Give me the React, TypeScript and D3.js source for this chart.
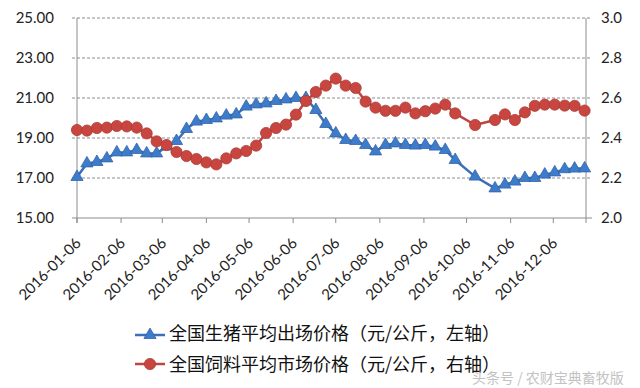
import * as d3 from 'd3';

// weekly observation dates (no data for 10-05 and 10-19)
const dates = [
  '2016-01-06', '2016-01-13', '2016-01-20', '2016-01-27', '2016-02-03', '2016-02-10', '2016-02-17', '2016-02-24',
  '2016-03-02', '2016-03-09', '2016-03-16', '2016-03-23', '2016-03-30', '2016-04-06', '2016-04-13', '2016-04-20',
  '2016-04-27', '2016-05-04', '2016-05-11', '2016-05-18', '2016-05-25', '2016-06-01', '2016-06-08', '2016-06-15',
  '2016-06-22', '2016-06-29', '2016-07-06', '2016-07-13', '2016-07-20', '2016-07-27', '2016-08-03', '2016-08-10',
  '2016-08-17', '2016-08-24', '2016-08-31', '2016-09-07', '2016-09-14', '2016-09-21', '2016-09-28', '2016-10-12',
  '2016-10-26', '2016-11-02', '2016-11-09', '2016-11-16', '2016-11-23', '2016-11-30', '2016-12-07', '2016-12-14',
  '2016-12-21', '2016-12-28',
];

// 全国生猪平均出场价格 (left axis)
const hogPrice = [
  17.05, 17.73, 17.8, 17.98, 18.28, 18.28, 18.4, 18.23,
  18.23, 18.57, 18.85, 19.45, 19.82, 19.9, 19.98, 20.12,
  20.18, 20.57, 20.68, 20.73, 20.85, 20.93, 21.0, 21.0,
  20.4, 19.7, 19.23, 18.9, 18.85, 18.65, 18.33, 18.65,
  18.73, 18.65, 18.62, 18.65, 18.57, 18.4, 17.9, 17.07,
  16.48, 16.67, 16.82, 17.0, 17.0, 17.17, 17.28, 17.44,
  17.47, 17.48,
];

// 全国饲料平均市场价格 (right axis)
const feedPrice = [
  2.44, 2.437, 2.45, 2.452, 2.46, 2.458, 2.452, 2.423,
  2.383, 2.365, 2.33, 2.31, 2.295, 2.278, 2.268, 2.298,
  2.323, 2.335, 2.362, 2.425, 2.45, 2.467, 2.517, 2.585,
  2.63, 2.662, 2.697, 2.662, 2.65, 2.582, 2.552, 2.536,
  2.536, 2.552, 2.523, 2.534, 2.547, 2.567, 2.523, 2.465,
  2.49, 2.518, 2.49, 2.528, 2.561, 2.567, 2.567, 2.562,
  2.561, 2.537,
];

const monthTicks = [
  '2016-01-06', '2016-02-06', '2016-03-06', '2016-04-06', '2016-05-06', '2016-06-06',
  '2016-07-06', '2016-08-06', '2016-09-06', '2016-10-06', '2016-11-06', '2016-12-06',
];
const leftTicks = [15, 17, 19, 21, 23, 25];
const rightTicks = [2.0, 2.2, 2.4, 2.6, 2.8, 3.0];

const hogLabel = '全国生猪平均出场价格（元/公斤，左轴）';
const feedLabel = '全国饲料平均市场价格（元/公斤，右轴）';

const W = 640;
const H = 388;
const left = 77;
const right = 586;
const top = 18;
const bottom = 218;

const BLUE_LINE = '#3b6fb6';
const BLUE_FILL = '#3d7bcb';
const RED_LINE = '#bf4540';
const RED_FILL = '#c8463f';

const parse = d3.timeParse('%Y-%m-%d');

export default function App() {
  const x = d3.scaleTime()
    .domain([parse('2016-01-06')!, parse('2016-12-29')!])
    .range([left, right]);
  const yL = d3.scaleLinear().domain([15, 25]).range([bottom, top]);
  const yR = d3.scaleLinear().domain([2.0, 3.0]).range([bottom, top]);

  const hog = dates.map((d, i) => ({ date: parse(d)!, v: hogPrice[i] }));
  const feed = dates.map((d, i) => ({ date: parse(d)!, v: feedPrice[i] }));

  const hogLine = d3.line<{ date: Date; v: number }>().x(d => x(d.date)).y(d => yL(d.v));
  const feedLine = d3.line<{ date: Date; v: number }>().x(d => x(d.date)).y(d => yR(d.v));
  const tri = d3.symbol().type(d3.symbolTriangle).size(64)()!;

  const tickFont = 'Lato, "Open Sans", sans-serif';
  const cjkFont = '"Noto Sans CJK SC", sans-serif';

  return (
    <svg width={W} height={H} style={{ position: 'absolute', left: 0, top: 0, background: '#fff' }}>
      {/* gridlines */}
      {leftTicks.slice(1).map(t => (
        <line key={t} x1={left - 5} x2={right + 6} y1={yL(t)} y2={yL(t)}
          stroke="#8c8c8c" strokeWidth={1} strokeDasharray="3,2" />
      ))}
      {/* axes */}
      <line x1={left} x2={left} y1={top} y2={bottom + 5} stroke="#8c8c8c" />
      <line x1={right} x2={right} y1={top} y2={bottom + 5} stroke="#8c8c8c" />
      <line x1={left - 5} x2={right + 6} y1={bottom} y2={bottom} stroke="#8c8c8c" />
      {monthTicks.map(t => (
        <line key={t} x1={x(parse(t)!)} x2={x(parse(t)!)} y1={bottom} y2={bottom + 5} stroke="#8c8c8c" />
      ))}
      {leftTicks.map(t => (
        <text key={t} x={54} y={yL(t)} dy="0.36em" textAnchor="end" fontFamily={tickFont} fontSize={15} fill="#222">
          {t.toFixed(2)}
        </text>
      ))}
      {rightTicks.map(t => (
        <text key={t} x={601} y={yR(t)} dy="0.36em" textAnchor="start" fontFamily={tickFont} fontSize={15} fill="#222">
          {t.toFixed(1)}
        </text>
      ))}
      {monthTicks.map(t => (
        <text key={t} transform={`translate(${x(parse(t)!) + 5},244) rotate(-45)`} textAnchor="end"
          fontFamily={tickFont} fontSize={15} fill="#222">
          {t}
        </text>
      ))}

      {/* hog price series */}
      <path d={hogLine(hog)!} fill="none" stroke={BLUE_LINE} strokeWidth={2.5} />
      {hog.map((d, i) => (
        <path key={i} d={tri} transform={`translate(${x(d.date)},${yL(d.v)})`}
          fill={BLUE_FILL} stroke="#3465a8" strokeWidth={0.8} />
      ))}

      {/* feed price series (secondary axis, drawn on top) */}
      <path d={feedLine(feed)!} fill="none" stroke={RED_LINE} strokeWidth={2.5} />
      {feed.map((d, i) => (
        <circle key={i} cx={x(d.date)} cy={yR(d.v)} r={5.6} fill={RED_FILL} stroke="#a93b36" strokeWidth={0.8} />
      ))}

      {/* legend */}
      <g>
        <line x1={135} x2={165} y1={335} y2={335} stroke={BLUE_LINE} strokeWidth={2.5} />
        <path d={tri} transform="translate(150,335)" fill={BLUE_FILL} stroke="#3465a8" strokeWidth={0.8} />
        <text x={169} y={334} dy="0.35em" fontFamily={cjkFont} fontSize={18} fill="#111">{hogLabel}</text>
        <line x1={135} x2={165} y1={364} y2={364} stroke={RED_LINE} strokeWidth={2.5} />
        <circle cx={150} cy={364} r={5.6} fill={RED_FILL} stroke="#a93b36" strokeWidth={0.8} />
        <text x={169} y={365} dy="0.35em" fontFamily={cjkFont} fontSize={18} fill="#111">{feedLabel}</text>
      </g>

      {/* watermark */}
      <text x={472} y={378} dy="0.35em" fontFamily={cjkFont} fontSize={14} fill="#b8b8b8" opacity={0.85}>
        头条号 / 农财宝典畜牧版
      </text>
    </svg>
  );
}
